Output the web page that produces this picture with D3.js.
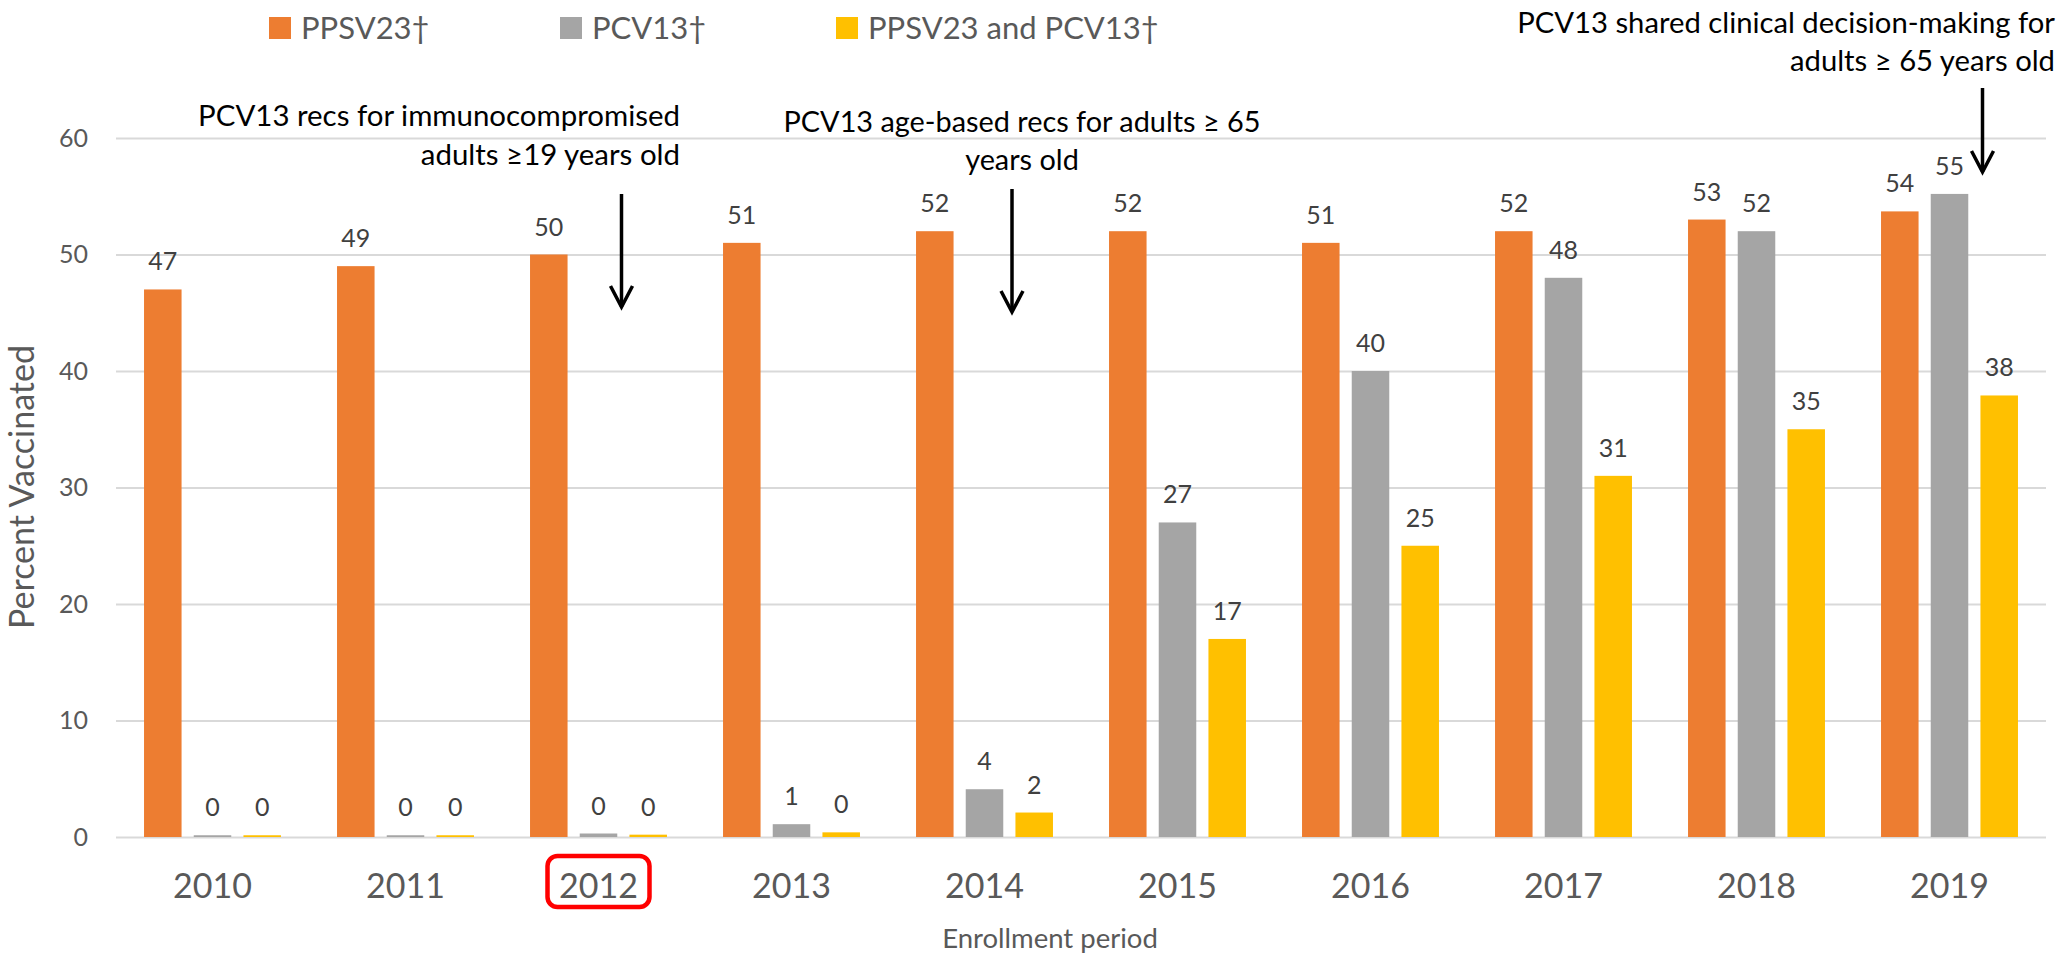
<!DOCTYPE html>
<html>
<head>
<meta charset="utf-8">
<script src="https://cdn.jsdelivr.net/npm/d3@7"></script>
<style>
  html, body { margin: 0; padding: 0; background: #ffffff; }
  svg { display: block; font-family: Lato, "Noto Sans", sans-serif; }
</style>
</head>
<body>
<svg id="chart" width="2066" height="957"></svg>
<script>
// ---- data ----
const years = ["2010","2011","2012","2013","2014","2015","2016","2017","2018","2019"];
const seriesNames = ["PPSV23\u2020", "PCV13\u2020", "PPSV23 and PCV13\u2020"];
const ppsv23 = [47, 49, 50, 51, 52, 52, 51, 52, 53, 53.7];
const pcv13 = [0.15, 0.15, 0.3, 1.1, 4.1, 27, 40, 48, 52, 55.2];
const ppsv23AndPcv13 = [0.15, 0.15, 0.2, 0.4, 2.1, 17, 25, 31, 35, 37.9];
const yTicks = [0, 10, 20, 30, 40, 50, 60];
const highlightedYear = "2012";
const annotationYears = ["2012", "2014", "2019"];
const annotationLines = [
  ["PCV13 recs for immunocompromised", "adults \u226519 years old"],
  ["PCV13 age-based recs for adults \u2265 65", "years old"],
  ["PCV13 shared clinical decision-making for", "adults \u2265 65 years old"]
];

// ---- layout / style ----
const colors = ["#ED7D31", "#A5A5A5", "#FFC000"];
const margin = { left: 116, right: 2046, top: 138, bottom: 837 };
const svg = d3.select("#chart");

const seriesValues = [ppsv23, pcv13, ppsv23AndPcv13];
const rows = years.map((yr, i) => ({
  year: yr,
  values: seriesNames.map((s, k) => ({ key: s, k: k, value: seriesValues[k][i] }))
}));

const x0 = d3.scaleBand().domain(years).range([margin.left, margin.right]).padding(0);
const x1 = d3.scaleBand().domain(seriesNames).range([0, x0.bandwidth()])
  .paddingInner(0.245).paddingOuter(0.564);
const y = d3.scaleLinear().domain([0, 60]).range([margin.bottom, margin.top]);

// gridlines + y tick labels
const yAxis = d3.axisLeft(y).tickValues(yTicks).tickSize(-(margin.right - margin.left)).tickPadding(28);
const gy = svg.append("g").attr("transform", `translate(${margin.left},0)`).call(yAxis);
gy.select(".domain").remove();
gy.selectAll(".tick line").attr("stroke", "#D9D9D9").attr("stroke-width", 2);
gy.selectAll(".tick text").attr("fill", "#595959").attr("font-size", 25)
  .attr("font-family", "Lato, 'Noto Sans', sans-serif");

// bars
const groups = svg.append("g").selectAll("g.grp").data(rows).join("g")
  .attr("class", "grp")
  .attr("transform", d => `translate(${x0(d.year)},0)`);

groups.selectAll("rect").data(d => d.values).join("rect")
  .attr("x", d => x1(d.key))
  .attr("width", x1.bandwidth())
  .attr("y", d => y(d.value))
  .attr("height", d => y(0) - y(d.value))
  .attr("fill", d => colors[d.k]);

groups.selectAll("text.lbl").data(d => d.values).join("text")
  .attr("class", "lbl")
  .attr("x", d => x1(d.key) + x1.bandwidth() / 2)
  .attr("y", d => y(d.value) - 19)
  .attr("text-anchor", "middle")
  .attr("font-size", 25)
  .attr("fill", "#404040")
  .text(d => Math.round(d.value));

// x axis (year labels)
const xAxis = d3.axisBottom(x0).tickSize(0).tickPadding(0);
const gx = svg.append("g").attr("transform", `translate(0,${margin.bottom})`).call(xAxis);
gx.select(".domain").remove();
gx.selectAll(".tick text").attr("fill", "#595959").attr("font-size", 34)
  .attr("font-family", "Lato, 'Noto Sans', sans-serif")
  .attr("y", 61).attr("dy", 0);

// highlight box around 2012
const hx = x0(highlightedYear) + x0.bandwidth() / 2;
svg.append("rect")
  .attr("x", hx - 51).attr("y", 856).attr("width", 102).attr("height", 51)
  .attr("rx", 10).attr("ry", 10)
  .attr("fill", "none").attr("stroke", "#FF0000").attr("stroke-width", 4.5);

// axis titles
svg.append("text")
  .attr("x", 1050).attr("y", 948)
  .attr("text-anchor", "middle").attr("font-size", 27.5).attr("fill", "#595959")
  .text("Enrollment period");
svg.append("text")
  .attr("transform", "translate(34,487) rotate(-90)")
  .attr("text-anchor", "middle").attr("font-size", 34).attr("fill", "#595959")
  .text("Percent Vaccinated");

// legend
const legendX = [269, 560, 836];
const lg = svg.append("g").selectAll("g").data(seriesNames).join("g")
  .attr("transform", (d, i) => `translate(${legendX[i]},0)`);
lg.append("rect").attr("x", 0).attr("y", 17).attr("width", 22).attr("height", 22)
  .attr("fill", (d, i) => colors[i]);
lg.append("text").attr("x", 32).attr("y", 39).attr("font-size", 31).attr("fill", "#595959")
  .text(d => d);

// annotations
function arrow(xc, y1, y2) {
  const g = svg.append("g").attr("stroke", "#000").attr("stroke-width", 3.5).attr("fill", "none");
  g.append("line").attr("x1", xc).attr("x2", xc).attr("y1", y1).attr("y2", y2);
  g.append("path").attr("d", `M${xc - 11},${y2 - 21} L${xc},${y2} L${xc + 11},${y2 - 21}`)
    .attr("stroke-linejoin", "miter");
}
// size the annotation font so that its first line spans the measured width
function annotation(lines, anchor, ax, baselines, firstLineWidth) {
  const g = svg.append("g").attr("fill", "#000").attr("text-anchor", anchor).attr("font-size", 30);
  const texts = lines.map((ln, i) => g.append("text").attr("x", ax).attr("y", baselines[i]).text(ln));
  const w = texts[0].node().getComputedTextLength();
  if (w > 0) g.attr("font-size", (30 * firstLineWidth / w).toFixed(2));
  return g;
}
annotation(annotationLines[0], "end", 680, [126, 165], 482);
arrow(x0(annotationYears[0]) + x0.bandwidth() / 2 + 23, 194, 307);
annotation(annotationLines[1], "middle", 1022, [132, 170], 477);
arrow(x0(annotationYears[1]) + x0.bandwidth() / 2 + 27.5, 189, 312);
annotation(annotationLines[2], "end", 2055, [33, 71], 538);
arrow(x0(annotationYears[2]) + x0.bandwidth() / 2 + 33, 88, 172);
</script>
</body>
</html>
